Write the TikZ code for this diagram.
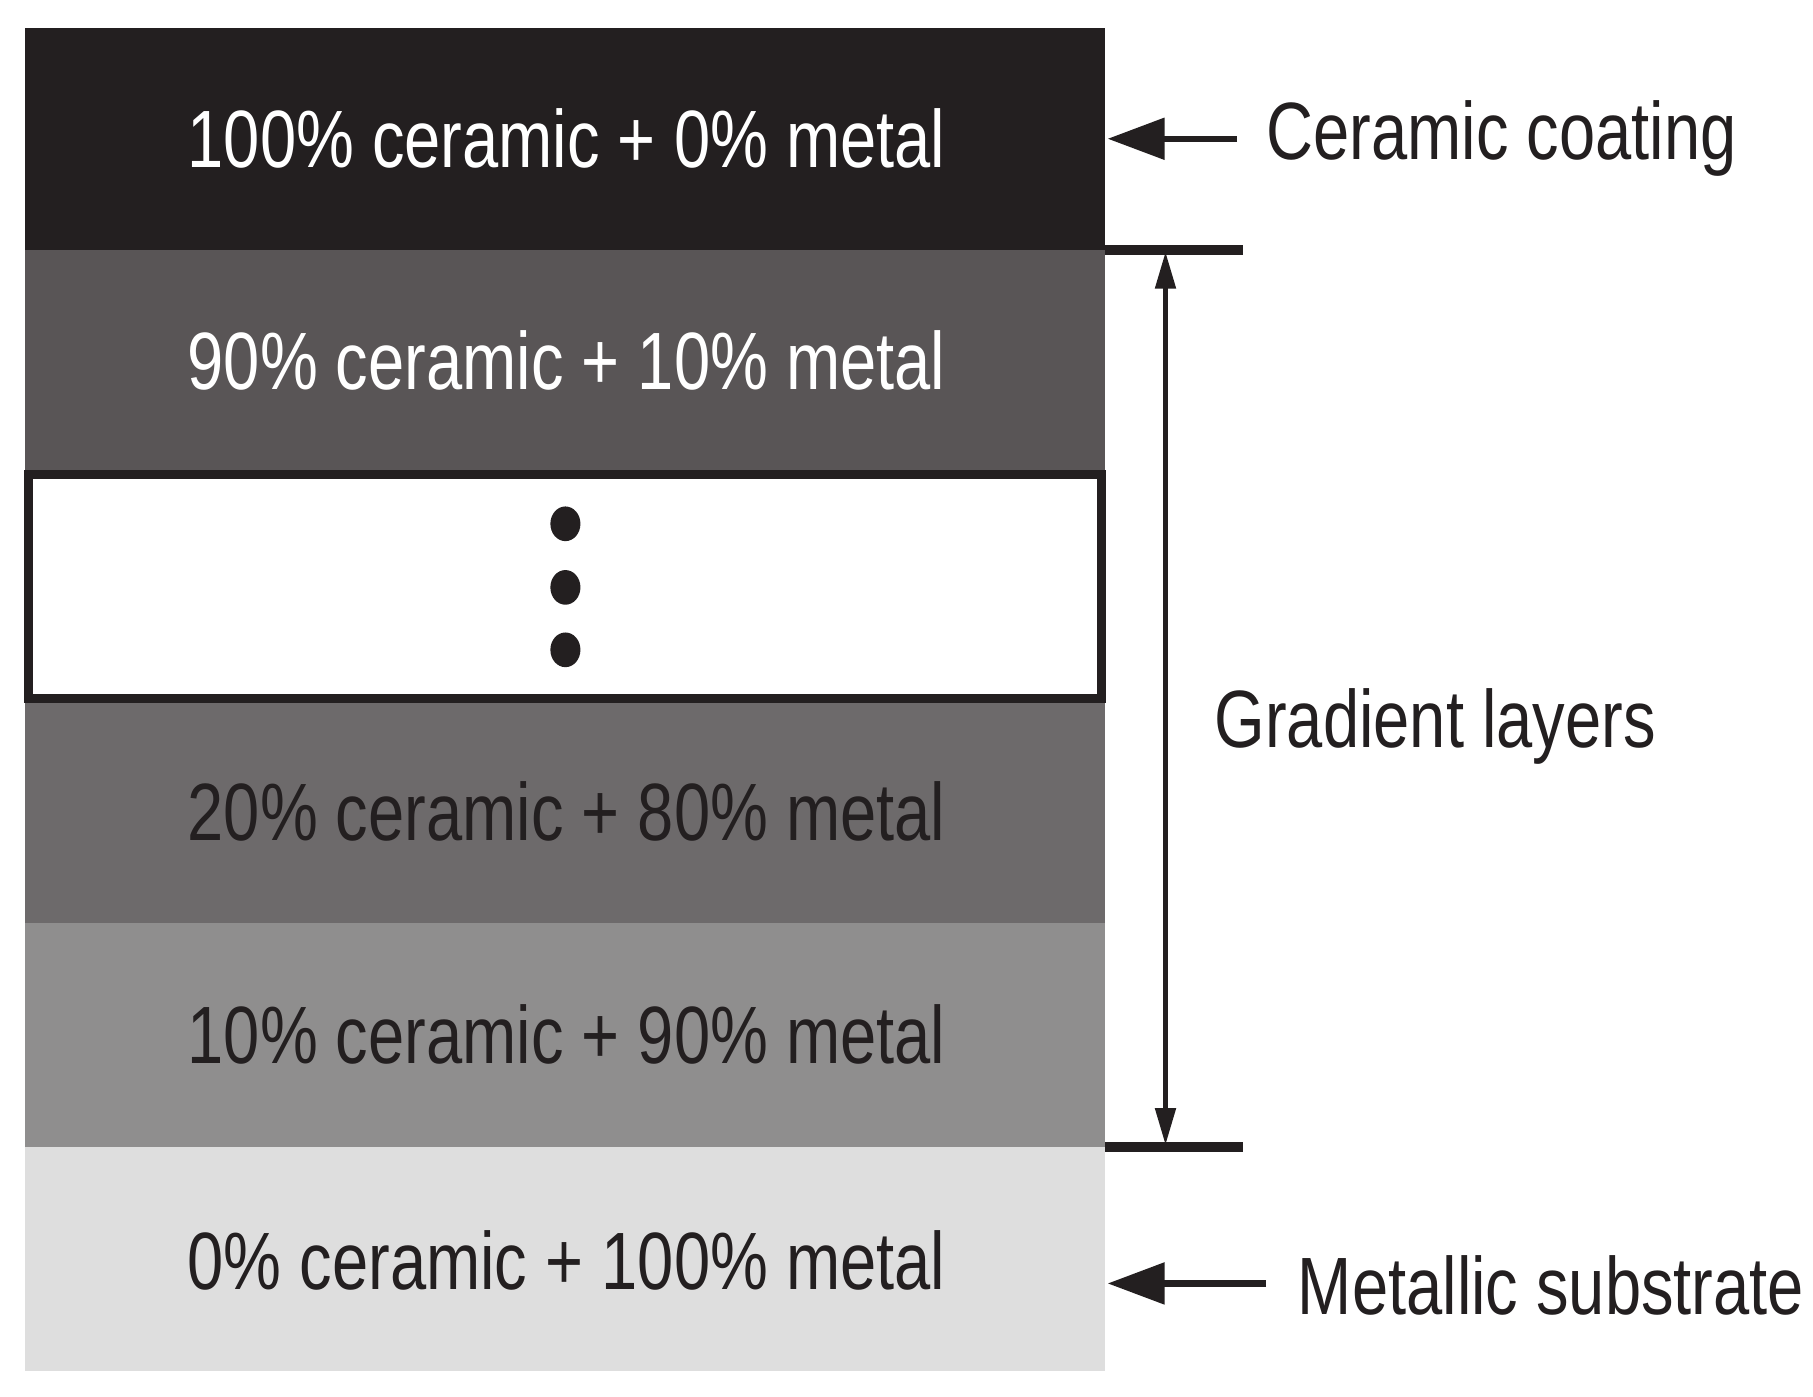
\documentclass[tikz,border=0pt]{standalone}
\usepackage{fontspec}
\setmainfont{Liberation Sans}
\usetikzlibrary{arrows.meta}
\definecolor{cA}{HTML}{231F20}
\definecolor{cB}{HTML}{595556}
\definecolor{cD}{HTML}{6D6A6B}
\definecolor{cE}{HTML}{8F8E8E}
\definecolor{cF}{HTML}{DEDEDE}
\tikzset{lbl/.style={font=\fontsize{20}{24}\selectfont, xscale=0.80, inner sep=0pt},
 tip/.style={-{Triangle[length=14pt,width=10pt]}, line width=1.6pt},
 dim/.style={{Triangle[length=9pt,width=5pt]}-{Triangle[length=9pt,width=5pt]}, line width=1pt}}
\begin{document}
\begin{tikzpicture}[x=0.01cm,y=-0.01cm]
\useasboundingbox[fill=white] (0,0) rectangle (1568,1208);
\fill[cA] (22,24) rectangle (956,216);
\fill[cB] (22,216) rectangle (956,408);
\fill[cD] (22,606) rectangle (956,798);
\fill[cE] (22,798) rectangle (956,992);
\fill[cF] (22,992) rectangle (956,1186);
\draw[line width=2.2pt, cA, fill=white] (25,410) rectangle (953,604);
\foreach \y in {453,508,562} \fill[cA] (489,\y) ellipse (13 and 15);
\node[lbl, text=white] (t1) at (490,120) {100\% ceramic + 0\% metal};
\node[lbl, text=white] (t2) at (490,312) {90\% ceramic + 10\% metal};
\node[lbl, text=cA] (t4) at (490,702) {20\% ceramic + 80\% metal};
\node[lbl, text=cA] (t5) at (490,895) {10\% ceramic + 90\% metal};
\node[lbl, text=cA] (t6) at (490,1090) {0\% ceramic + 100\% metal};
\node[lbl, anchor=west, text=cA] (cc) at (1095,120) {Ceramic coating};
\node[lbl, anchor=west, text=cA] (gl) at (1050,628) {Gradient layers};
\node[lbl, anchor=west, text=cA] (ms) at (1122,1112) {Metallic substrate};
\coordinate (a1) at (958,120); \coordinate (a1s) at (1070,120);
\coordinate (a2) at (958,1110); \coordinate (a2s) at (1095,1110);
\draw[tip, cA] (a1s) -- (a1);
\draw[tip, cA] (a2s) -- (a2);
\coordinate (h1a) at (956,216); \coordinate (h1b) at (1075,216);
\coordinate (h2a) at (956,992); \coordinate (h2b) at (1075,992);
\draw[line width=2.4pt, cA] (h1a) -- (h1b);
\draw[line width=2.4pt, cA] (h2a) -- (h2b);
\coordinate (v1) at (1008,218); \coordinate (v2) at (1008,990);
\draw[dim, cA] (v1) -- (v2);
\end{tikzpicture}
\end{document}
